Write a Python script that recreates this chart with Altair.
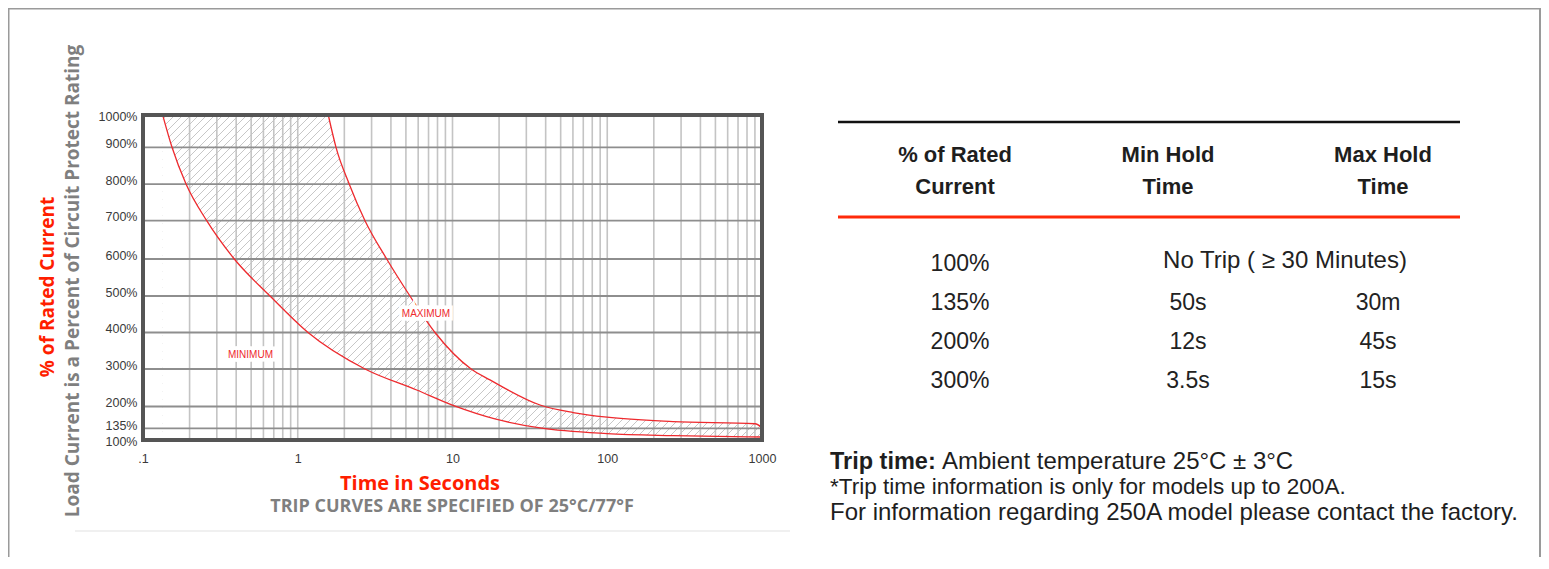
import altair as alt
import numpy as np
import pandas as pd

# ---------------- data ----------------
# minimum trip curve: time in seconds vs % of rated current
MIN_T = [0.134, 0.154, 0.19, 0.258, 0.389, 0.662, 1.165, 2.72, 5.87, 10.4, 18.8, 36.8, 99.6, 266, 1000]
MIN_P = [1000, 900, 800, 700, 600, 500, 400, 300, 244, 201, 163, 136, 119, 113, 109]
# maximum trip curve
MAX_T = [1.575, 1.767, 2.153, 2.72, 3.757, 5.31, 7.71, 13.2, 17.47, 36.8, 60.1, 99.6, 266, 901, 1000]
MAX_P = [1000, 900, 800, 700, 600, 500, 400, 300, 271, 204, 182, 168, 155, 148.5, 137]

X_TICKS = [0.1, 1, 10, 100, 1000]
Y_TICKS = [100, 135, 200, 300, 400, 500, 600, 700, 800, 900, 1000]
Y_GRID = [135, 200, 300, 400, 500, 600, 700, 800, 900]
X_GRID = [m * 10.0 ** e for e in (-1, 0, 1, 2) for m in range(1, 10) if not (e == -1 and m == 1)]

CURVE_LABELS = ["MINIMUM", "MAXIMUM"]
CURVE_LABEL_T = [0.495, 6.74]
CURVE_LABEL_P = [338, 451]

TABLE_HEAD_1 = ["% of Rated", "Min Hold", "Max Hold"]
TABLE_HEAD_2 = ["Current", "Time", "Time"]
TABLE_PCT = ["100%", "135%", "200%", "300%"]
TABLE_MIN = ["50s", "12s", "3.5s"]
TABLE_MAX = ["30m", "45s", "15s"]
NO_TRIP = "No Trip ( \u2265 30 Minutes)"

NOTE_BOLD = "Trip time:"
NOTE_1 = "Ambient temperature 25\u00b0C \u00b1 3\u00b0C"
NOTE_2 = "*Trip time information is only for models up to 200A."
NOTE_3 = "For information regarding 250A model please contact the factory."

X_TITLE = "Time in Seconds"
X_SUB = "TRIP CURVES ARE SPECIFIED OF 25\u00b0C/77\u00b0F"
Y_TITLE = "% of Rated Current"
Y_SUB = "Load Current is a Percent of Circuit Protect Rating"

# ---------------- layout ----------------
OX, OY = 143, 115          # page position of plot area
W, H = 619, 325            # plot area size
SVG_W, SVG_H = 1533, 549
PAD = {"left": OX - 8, "top": OY - 8, "right": SVG_W - (OX - 8) - W, "bottom": SVG_H - (OY - 8) - H}


def px(x):
    return x - OX


def py(y):
    return y - OY


RED = "#ff1e00"
CURVE_RED = "#ee2a2e"
GRAY_T = "#7f7f7f"
SANS = "Liberation Sans"
TITLE_FONT = "Open Sans"

# y scale: the chart's uneven spacing of the % gridlines
Y_DOMAIN = [100, 200, 300, 400, 500, 600, 700, 800, 900, 1000]
Y_RANGE = [325, 291.5, 254, 217.5, 181, 144, 105.7, 69.2, 32.3, 0]

xs = alt.Scale(type="log", domain=[0.1, 1000], nice=False)
ys = alt.Scale(domain=Y_DOMAIN, range=Y_RANGE, nice=False, zero=False)

XAXIS = alt.Axis(
    values=X_TICKS,
    labelExpr="datum.value < 0.5 ? '.1' : format(datum.value, 'd')",
    ticks=False, domain=False, grid=False, title=None,
    labelPadding=12, labelFont=SANS, labelFontSize=12.5, labelColor="#3a3a3a",
    labelFlush=False, labelOverlap=False,
)
YAXIS = alt.Axis(
    values=Y_TICKS,
    labelExpr="datum.value + '%'",
    ticks=False, domain=False, grid=False, title=None,
    labelPadding=6, labelFont=SANS, labelFontSize=12.5, labelColor="#3a3a3a",
    labelOverlap=False, labelBound=False, labelFlush=False,
    labelOffset={
        "condition": [
            {"test": "datum.value == 135", "value": -2.5},
            {"test": "datum.value > 150 && datum.value < 950", "value": -4},
        ],
        "value": 1,
    },
)


def X(field=None, datum=None):
    if datum is not None:
        return alt.X(datum=datum, type="quantitative", scale=xs, axis=XAXIS, title=None)
    return alt.X(field, type="quantitative", scale=xs, axis=XAXIS, title=None)


def Y(field=None, datum=None):
    if datum is not None:
        return alt.Y(datum=datum, type="quantitative", scale=ys, axis=YAXIS, title=None)
    return alt.Y(field, type="quantitative", scale=ys, axis=YAXIS, title=None)


min_df = pd.DataFrame({"t": MIN_T, "p": MIN_P})
max_df = pd.DataFrame({"t": MAX_T, "p": MAX_P})
one = pd.DataFrame({"a": [0]})

# ---------------- hatch texture (decoration, own pixel scales) ----------------
off = np.arange(-H, W + 8, 8.0)
hatch_df = pd.DataFrame({"u": off, "u2": off + H, "v": 0.0, "v2": float(H)})
hatch = alt.Chart(hatch_df).mark_rule(color="#b9b9b9", strokeWidth=0.8, clip=True).encode(
    x=alt.X("u:Q", scale=alt.Scale(domain=[0, W], nice=False, zero=False), axis=None),
    x2="u2:Q",
    y=alt.Y("v:Q", scale=alt.Scale(domain=[0, H], nice=False, zero=False), axis=None),
    y2="v2:Q",
)

# ---------------- plot layers (shared log / % scales) ----------------
mask_left_rect = alt.Chart(one).mark_rect(color="white").encode(
    x=X(datum=0.1), x2=alt.X2(datum=MIN_T[0]), y=Y(datum=100), y2=alt.Y2(datum=1000)
)
mask_low = alt.Chart(min_df).mark_area(color="white", interpolate="monotone", opacity=1).encode(
    x=X("t"), y=Y("p"), y2=alt.Y2(datum=100)
)
mask_high = alt.Chart(max_df).mark_area(color="white", interpolate="monotone", opacity=1).encode(
    x=X("t"), y=Y("p"), y2=alt.Y2(datum=1000)
)
vgrid = alt.Chart(pd.DataFrame({"g": X_GRID})).mark_rule(color="#c4c4c4", strokeWidth=1.6).encode(x=X("g"))
hgrid = alt.Chart(pd.DataFrame({"g": Y_GRID})).mark_rule(color="#8e8e8e", strokeWidth=1.8).encode(y=Y("g"))
min_line = alt.Chart(min_df).mark_line(color=CURVE_RED, strokeWidth=1.3, interpolate="monotone").encode(
    x=X("t"), y=Y("p")
)
max_line = alt.Chart(max_df).mark_line(color=CURVE_RED, strokeWidth=1.3, interpolate="monotone").encode(
    x=X("t"), y=Y("p")
)
lab_df = pd.DataFrame({"t": CURVE_LABEL_T, "p": CURVE_LABEL_P, "s": CURVE_LABELS})
lab_halo = alt.Chart(lab_df).mark_text(
    font=SANS, fontSize=10, color="white", stroke="white", strokeWidth=7, strokeJoin="miter"
).encode(x=X("t"), y=Y("p"), text="s:N")
lab = alt.Chart(lab_df).mark_text(font=SANS, fontSize=10, color=CURVE_RED).encode(
    x=X("t"), y=Y("p"), text="s:N"
)
frame = alt.Chart(one).mark_rect(filled=False, stroke="#555555", strokeWidth=4).encode(
    x=X(datum=0.1), x2=alt.X2(datum=1000), y=Y(datum=100), y2=alt.Y2(datum=1000)
)
plot = alt.layer(mask_left_rect, mask_low, mask_high, vgrid, hgrid, min_line, max_line, lab_halo, lab, frame)

# ---------------- free text / decoration ----------------


def txt(s, x, y, size, color="#222222", font=SANS, weight="normal", align="center", angle=0):
    return alt.Chart(pd.DataFrame({"s": [s]})).mark_text(
        font=font, fontSize=size, color=color, fontWeight=weight, align=align,
        baseline="middle", angle=angle,
    ).encode(text="s:N", x=alt.value(px(x)), y=alt.value(py(y)))


def hline(x1, x2, y, color, width):
    return alt.Chart(one).mark_rule(color=color, strokeWidth=width).encode(
        x=alt.value(px(x1)), x2=alt.value(px(x2)), y=alt.value(py(y))
    )


def vline(x, y1, y2, color, width):
    return alt.Chart(one).mark_rule(color=color, strokeWidth=width).encode(
        x=alt.value(px(x)), y=alt.value(py(y1)), y2=alt.value(py(y2))
    )


titles = [
    txt(X_TITLE, 420, 484, 20, RED, TITLE_FONT, "bold"),
    txt(X_SUB, 452, 507, 18, GRAY_T, TITLE_FONT, "bold"),
    txt(Y_TITLE, 48, 287, 19, RED, TITLE_FONT, "bold", angle=270),
    txt(Y_SUB, 73, 281, 19, GRAY_T, TITLE_FONT, "bold", angle=270),
    hline(75, 790, 531, "#e2e2e2", 1.2),
]

outer = [
    vline(8.5, 8, 570, "#9a9a9a", 2),
    hline(8.5, 1540, 8.5, "#9a9a9a", 2),
    vline(1540, 8, 570, "#9a9a9a", 2),
]

# ---------------- table ----------------
COL_HEAD_X = [955, 1168, 1383]
table_parts = [hline(838, 1460, 122, "#111111", 2.5), hline(838, 1460, 217, "#ff2a0a", 3)]
for h1, h2, cx in zip(TABLE_HEAD_1, TABLE_HEAD_2, COL_HEAD_X):
    table_parts.append(txt(h1, cx, 155, 22, "#1e1e1e", SANS, "bold"))
    table_parts.append(txt(h2, cx, 187, 22, "#1e1e1e", SANS, "bold"))

row_scale = alt.Scale(domain=TABLE_PCT, range=[py(264), py(381)], padding=0)
body_style = dict(font=SANS, color="#222222", baseline="middle", align="center")
col_pct = alt.Chart(pd.DataFrame({"r": TABLE_PCT, "s": TABLE_PCT})).mark_text(fontSize=23, **body_style).encode(
    y=alt.Y("r:N", scale=row_scale, axis=None), x=alt.value(px(960)), text="s:N"
)
col_min = alt.Chart(pd.DataFrame({"r": TABLE_PCT[1:], "s": TABLE_MIN})).mark_text(fontSize=23, **body_style).encode(
    y=alt.Y("r:N", scale=row_scale, axis=None), x=alt.value(px(1188)), text="s:N"
)
col_max = alt.Chart(pd.DataFrame({"r": TABLE_PCT[1:], "s": TABLE_MAX})).mark_text(fontSize=23, **body_style).encode(
    y=alt.Y("r:N", scale=row_scale, axis=None), x=alt.value(px(1378)), text="s:N"
)
col_nt = alt.Chart(pd.DataFrame({"r": TABLE_PCT[:1], "s": [NO_TRIP]})).mark_text(
    fontSize=24, dy=-3, **body_style
).encode(
    y=alt.Y("r:N", scale=row_scale, axis=None), x=alt.value(px(1285)), text="s:N"
)
table_body = alt.layer(col_pct, col_min, col_max, col_nt)

notes = [
    txt(NOTE_BOLD, 830, 462, 23.5, "#1e1e1e", SANS, "bold", align="left"),
    txt(NOTE_1, 942, 462, 24, "#1e1e1e", SANS, align="left"),
    txt(NOTE_2, 830, 487, 22.5, "#1e1e1e", SANS, align="left"),
    txt(NOTE_3, 830, 513, 24, "#1e1e1e", SANS, align="left"),
]

chart = alt.layer(hatch, plot, table_body, *titles, *outer, *table_parts, *notes).resolve_scale(
    x="independent", y="independent"
).properties(
    width=W, height=H, padding=PAD, autosize=alt.AutoSizeParams(type="none"), background="white"
).configure_view(strokeWidth=0)

chart.save("out.html", embed_options={"renderer": "svg", "actions": False})
